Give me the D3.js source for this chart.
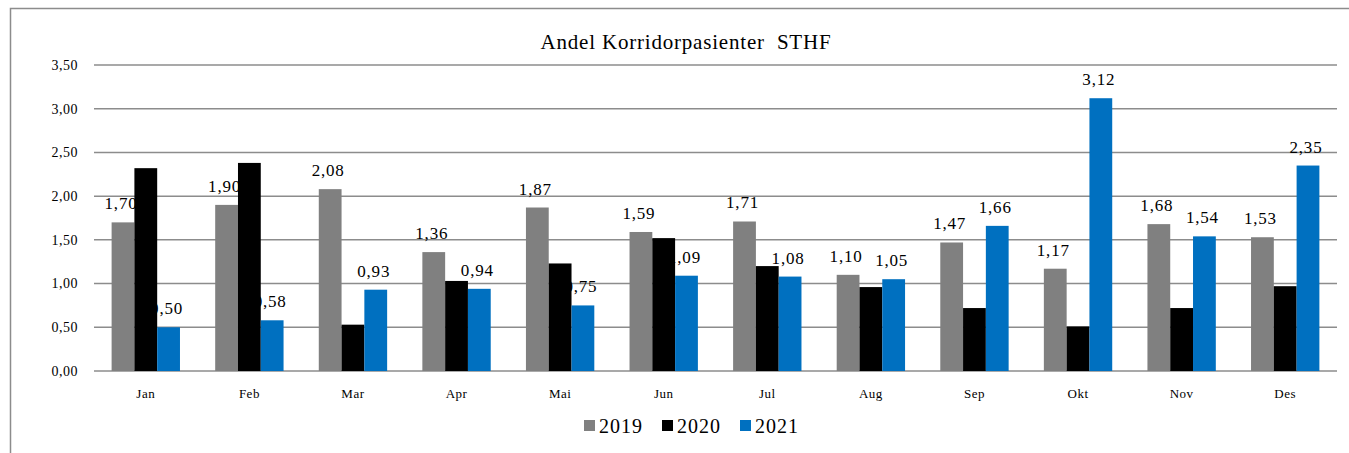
<!DOCTYPE html>
<html lang="no">
<head>
<meta charset="utf-8" />
<title>Andel Korridorpasienter STHF</title>
<style>
  body { margin: 0; background: #fff; }
  svg text { font-family: "Liberation Serif", "DejaVu Serif", serif; fill: #000; }
  .grid line { stroke: #8c8c8c; stroke-width: 1.5; }
</style>
</head>
<body>
<div id="chart"></div>
<script src="https://cdn.jsdelivr.net/npm/d3@7"></script>
<script>
var months = ["Jan", "Feb", "Mar", "Apr", "Mai", "Jun", "Jul", "Aug", "Sep", "Okt", "Nov", "Des"];
var years = ["2019", "2020", "2021"];
var v2019 = [1.70, 1.90, 2.08, 1.36, 1.87, 1.59, 1.71, 1.10, 1.47, 1.17, 1.68, 1.53];
var v2020 = [2.32, 2.38, 0.53, 1.03, 1.23, 1.52, 1.20, 0.96, 0.72, 0.51, 0.72, 0.97];
var v2021 = [0.50, 0.58, 0.93, 0.94, 0.75, 1.09, 1.08, 1.05, 1.66, 3.12, 1.54, 2.35];
var yTicks = [0, 0.5, 1, 1.5, 2, 2.5, 3, 3.5];
var colors = ["#808080", "#000000", "#0070c0"];
var labelled = [true, false, true];

var width = 1349, height = 453;
var series = [v2019, v2020, v2021];

var svg = d3.select("#chart").append("svg")
    .attr("width", width)
    .attr("height", height);

// outer frame
svg.append("rect")
   .attr("x", 10.5).attr("y", 8.5)
   .attr("width", 1400).attr("height", 500)
   .attr("fill", "none")
   .attr("stroke", "#8c8c8c")
   .attr("stroke-width", 1.5);

var plotLeft = 94, plotRight = 1337, plotTop = 65, plotBottom = 371;

var x = d3.scaleBand().domain(months).range([plotLeft, plotRight]).paddingInner(0).paddingOuter(0);
var groupW = x.bandwidth() * 0.66;
var x1 = d3.scaleBand().domain(years).range([0, groupW]).padding(0);
var y = d3.scaleLinear().domain([0, 3.5]).range([plotBottom, plotTop]);

var fmt = function(d) { return d3.format(".2f")(d).replace(".", ","); };

// gridlines
svg.append("g").attr("class", "grid")
   .selectAll("line").data(yTicks).enter().append("line")
   .attr("x1", plotLeft).attr("x2", plotRight)
   .attr("y1", function(d) { return y(d); })
   .attr("y2", function(d) { return y(d); });

// y tick labels
svg.append("g").selectAll("text").data(yTicks).enter().append("text")
   .attr("x", 78)
   .attr("y", function(d) { return y(d); })
   .attr("dy", "0.35em")
   .attr("text-anchor", "end")
   .style("font-size", "14px")
   .style("letter-spacing", "0.5px")
   .text(fmt);

// month labels
svg.append("g").selectAll("text").data(months).enter().append("text")
   .attr("x", function(d) { return x(d) + x.bandwidth() / 2; })
   .attr("y", 398)
   .attr("text-anchor", "middle")
   .style("font-size", "13px")
   .style("letter-spacing", "0.5px")
   .text(function(d) { return d; });

var groups = svg.append("g").selectAll("g").data(months).enter().append("g")
   .attr("transform", function(d) { return "translate(" + (x(d) + (x.bandwidth() - groupW) / 2) + ",0)"; });

years.forEach(function(yr, si) {
  groups.append("rect")
    .attr("x", x1(yr))
    .attr("width", x1.bandwidth())
    .attr("y", function(d, i) { return y(series[si][i]); })
    .attr("height", function(d, i) { return plotBottom - y(series[si][i]); })
    .attr("fill", colors[si]);
});

years.forEach(function(yr, si) {
  if (!labelled[si]) return;
  groups.append("text")
    .attr("x", x1(yr) + x1.bandwidth() / 2 - 2)
    .attr("y", function(d, i) { return y(series[si][i]) - 13; })
    .attr("text-anchor", "middle")
    .style("font-size", "17px")
    .style("letter-spacing", "0.8px")
    .text(function(d, i) { return fmt(series[si][i]); });
});

// title
svg.append("text")
   .attr("x", 686).attr("y", 49)
   .attr("text-anchor", "middle")
   .style("font-size", "21px")
   .style("letter-spacing", "0.8px")
   .style("white-space", "pre")
   .text("Andel Korridorpasienter  STHF");

// legend
var legend = svg.append("g").attr("transform", "translate(584,0)");
var legX = [0, 78, 156];
years.forEach(function(yr, i) {
  legend.append("rect")
    .attr("x", legX[i]).attr("y", 420)
    .attr("width", 11).attr("height", 11)
    .attr("fill", colors[i]);
  legend.append("text")
    .attr("x", legX[i] + 15).attr("y", 433)
    .style("font-size", "20px")
    .style("letter-spacing", "1px")
    .text(yr);
});
</script>
</body>
</html>
